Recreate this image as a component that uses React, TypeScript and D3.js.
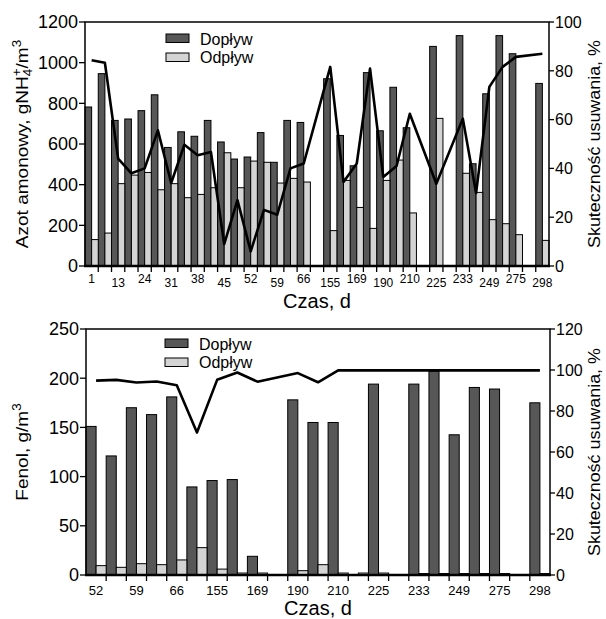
import React from 'react';
import * as d3 from 'd3';

// ---------- Top chart (Azot amonowy) ----------
const topLabels = ['1', '', '13', '', '24', '', '31', '', '38', '', '45', '', '52', '', '59', '', '66', '', '155', '', '169', '', '190', '', '210', '', '225', '', '233', '', '249', '', '275', '', '298'];
const topInflow: (number | null)[] = [782, 946, 716, 723, 764, 842, 583, 660, 638, 716, 610, 526, 536, 656, 510, 716, 706, null, 921, 642, 493, 951, 665, 879, 680, null, 1080, null, 1133, 503, 847, 1133, 1044, null, 898];
const topOutflow: (number | null)[] = [130, 162, 405, 447, 460, 375, 405, 336, 352, 385, 557, 385, 516, 510, 408, 431, 413, null, 174, 421, 288, 185, 421, 521, 261, null, 726, null, 456, 362, 228, 208, 154, null, 126];
const topEfficiency: (number | null)[] = [84.3, 83.3, 44, 38, 40, 55.6, 34, 49.7, 45.4, 46.7, 9, 27, 6, 23, 21, 40, 42, null, 81.6, 34.4, 42, 80.9, 36.5, 41, 62.4, null, 33.7, null, 60.4, 29.9, 73.4, 81.6, 85.7, null, 87];
const topLeftTicks = [0, 200, 400, 600, 800, 1000, 1200];
const topRightTicks = [0, 20, 40, 60, 80, 100];

// ---------- Bottom chart (Fenol) ----------
const botLabels = ['52', '', '59', '', '66', '', '155', '', '169', '', '190', '', '210', '', '225', '', '233', '', '249', '', '275', '', '298'];
const botInflow: (number | null)[] = [151, 121, 170, 163, 181, 89.5, 96, 97, 19, null, 178, 155, 155, null, 194, null, 194, 207, 142.5, 190.6, 189, null, 175];
const botOutflow: (number | null)[] = [9.5, 7.8, 11.5, 10.5, 15.3, 27.8, 6, 2, 2, null, 4.4, 10.5, 2, 2, 2, null, 1.5, 1.5, 1.5, 1.5, 1.5, null, 1.5];
const botEfficiency: (number | null)[] = [94.8, 95.2, 93.9, 94.4, 92.6, 69.5, 95.2, 98.8, 94.3, null, 98.5, 94, 99.8, null, 99.8, null, 99.8, 99.8, 99.8, 99.8, 99.8, null, 99.8];
const botLeftTicks = [0, 50, 100, 150, 200, 250];
const botRightTicks = [0, 20, 40, 60, 80, 100, 120];

const legendNames = ['Dopływ', 'Odpływ'];
const xTitle = 'Czas, d';
const rightTitle = 'Skuteczność usuwania, %';

const FONT = '"Liberation Sans", Arial, Helvetica, sans-serif';
const DARK = '#575757';
const LIGHT = '#d4d4d4';

type PanelProps = {
  left: number; right: number; top: number; bottom: number;
  labels: string[];
  inflow: (number | null)[];
  outflow: (number | null)[];
  eff: (number | null)[];
  leftTicks: number[];
  rightTicks: number[];
  labelSize: number;
  stagger: boolean;
  labelBase: number;
  titleBase: number;
  legendX: number; legendY: number;
  leftTitle: React.ReactNode;
};

function Panel(p: PanelProps) {
  const n = p.labels.length;
  const x = d3.scaleBand<number>().domain(d3.range(n)).range([p.left, p.right]).padding(0);
  const bw = x.bandwidth() / 2;
  const yL = d3.scaleLinear().domain([0, d3.max(p.leftTicks) as number]).range([p.bottom, p.top]);
  const yR = d3.scaleLinear().domain([0, d3.max(p.rightTicks) as number]).range([p.bottom, p.top]);
  const pts: [number, number][] = [];
  p.eff.forEach((v, i) => {
    if (v != null) pts.push([(x(i) as number) + x.bandwidth() / 2, yR(v)]);
  });
  const path = d3.line()(pts) || '';
  const midY = (p.top + p.bottom) / 2;
  const midX = (p.left + p.right) / 2;
  let labelCount = 0;
  return (
    <g fontFamily={FONT} fill="#000">
      {/* bars */}
      {p.inflow.map((v, i) =>
        v == null ? null : (
          <rect key={'in' + i} x={x(i)} y={yL(v)} width={bw} height={p.bottom - yL(v)} fill={DARK} stroke="#000" strokeWidth={1} />
        )
      )}
      {p.outflow.map((v, i) =>
        v == null ? null : (
          <rect key={'out' + i} x={(x(i) as number) + bw} y={yL(v)} width={bw} height={p.bottom - yL(v)} fill={LIGHT} stroke="#000" strokeWidth={1} />
        )
      )}
      {/* efficiency line */}
      <path d={path} fill="none" stroke="#000" strokeWidth={2.6} strokeLinejoin="round" />
      {/* frame */}
      <rect x={p.left} y={p.top} width={p.right - p.left} height={p.bottom - p.top} fill="none" stroke="#000" strokeWidth={1.5} />
      <line x1={p.left - 1} x2={p.right + 1} y1={p.bottom} y2={p.bottom} stroke="#000" strokeWidth={2.6} />
      {/* left axis */}
      {p.leftTicks.map((t) => (
        <g key={'l' + t}>
          <line x1={p.left - 6} x2={p.left} y1={yL(t)} y2={yL(t)} stroke="#000" strokeWidth={1.3} />
          <text x={p.left - 7} y={yL(t)} dy="0.36em" textAnchor="end" fontSize={18}>{t}</text>
        </g>
      ))}
      {/* right axis */}
      {p.rightTicks.map((t) => (
        <g key={'r' + t}>
          <line x1={p.right} x2={p.right + 5} y1={yR(t)} y2={yR(t)} stroke="#000" strokeWidth={1.3} />
          <text x={p.right + 6} y={yR(t)} dy="0.36em" textAnchor="start" fontSize={16}>{t}</text>
        </g>
      ))}
      {/* bottom ticks */}
      {d3.range(1, n).map((i) => (
        <line key={'bt' + i} x1={x(i)} x2={x(i)} y1={p.bottom} y2={p.bottom + 6} stroke="#000" strokeWidth={1.3} />
      ))}
      {p.labels.map((lab, i) => {
        if (!lab) return null;
        const k = labelCount++;
        const yb = p.stagger ? (k % 2 === 0 ? p.labelBase : p.labelBase + 4) : p.labelBase;
        return (
          <text key={'xl' + i} x={(x(i) as number) + x.bandwidth() / 2} y={yb} textAnchor="middle" fontSize={p.labelSize}>{lab}</text>
        );
      })}
      {/* x title */}
      <text x={midX} y={p.titleBase} textAnchor="middle" fontSize={20}>{xTitle}</text>
      {/* left title */}
      <text transform={`translate(28,${midY}) rotate(-90) scale(1.12,1)`} textAnchor="middle" fontSize={17}>{p.leftTitle}</text>
      {/* right title */}
      <text transform={`translate(600,${midY}) rotate(-90) scale(1.12,1)`} textAnchor="middle" fontSize={16}>{rightTitle}</text>
      {/* legend */}
      <rect x={p.legendX} y={p.legendY} width={23} height={8.5} fill={DARK} stroke="#000" strokeWidth={1} />
      <rect x={p.legendX} y={p.legendY + 19} width={23} height={8.5} fill={LIGHT} stroke="#000" strokeWidth={1} />
      <text x={p.legendX + 34} y={p.legendY + 11} fontSize={16}>{legendNames[0]}</text>
      <text x={p.legendX + 34} y={p.legendY + 29} fontSize={16}>{legendNames[1]}</text>
    </g>
  );
}

export default function App() {
  return (
    <svg width={606} height={619} viewBox="0 0 606 619" style={{ position: 'absolute', left: 0, top: 0, display: 'block', background: '#fff' }}>
      <rect x={0} y={0} width={606} height={619} fill="#fff" />
      <Panel
        left={85} right={549} top={22} bottom={266}
        labels={topLabels} inflow={topInflow} outflow={topOutflow} eff={topEfficiency}
        leftTicks={topLeftTicks} rightTicks={topRightTicks}
        labelSize={12} stagger={true} labelBase={283} titleBase={308}
        legendX={166} legendY={34}
        leftTitle={
          <>
            Azot amonowy, gNH
            <tspan fontSize={12} dy={4}>4</tspan>
            <tspan fontSize={12} dx={-6.7} dy={-11}>+</tspan>
            <tspan dy={7}>/m</tspan>
            <tspan fontSize={12} dy={-7}>3</tspan>
          </>
        }
      />
      <Panel
        left={86} right={550} top={329} bottom={575}
        labels={botLabels} inflow={botInflow} outflow={botOutflow} eff={botEfficiency}
        leftTicks={botLeftTicks} rightTicks={botRightTicks}
        labelSize={13} stagger={false} labelBase={595} titleBase={615}
        legendX={165} legendY={339}
        leftTitle={
          <>
            Fenol, g/m
            <tspan fontSize={12} dy={-7}>3</tspan>
          </>
        }
      />
    </svg>
  );
}
